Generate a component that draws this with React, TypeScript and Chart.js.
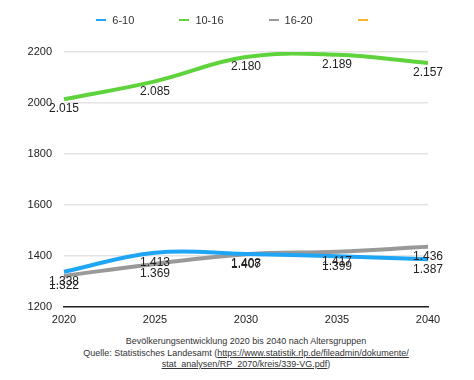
import React, { useEffect, useRef } from "react";
import { Chart, registerables } from "chart.js";

Chart.register(...registerables);

const years = ["2020", "2025", "2030", "2035", "2040"];
const group6to10 = [1338, 1413, 1408, 1399, 1387];
const group10to16 = [2015, 2085, 2180, 2189, 2157];
const group16to20 = [1322, 1369, 1407, 1417, 1436];
const groupEmpty: number[] = [];
const seriesNames = ["6-10", "10-16", "16-20", ""];
const seriesColors = ["#1fa5f5", "#5fd33c", "#999999", "#f7b52c"];
const yTicks = [1200, 1400, 1600, 1800, 2000, 2200];

const FONT = "'Liberation Sans', Arial, Helvetica, sans-serif";

function fmt(v: number): string {
  const t = Math.floor(v / 1000);
  const r = v % 1000;
  return t > 0 ? `${t}.${String(r).padStart(3, "0")}` : String(v);
}

const valueLabels = {
  id: "valueLabels",
  afterDatasetsDraw(chart: any) {
    const ctx = chart.ctx;
    ctx.save();
    ctx.font = `12px ${FONT}`;
    ctx.fillStyle = "#222";
    ctx.textAlign = "center";
    ctx.textBaseline = "middle";
    chart.data.datasets.forEach((ds: any, i: number) => {
      const meta = chart.getDatasetMeta(i);
      meta.data.forEach((pt: any, j: number) => {
        const v = ds.data[j];
        if (v == null) return;
        ctx.fillText(fmt(v), pt.x, pt.y + 10);
      });
    });
    ctx.restore();
  },
};

export default function App() {
  const ref = useRef<HTMLCanvasElement>(null);
  useEffect(() => {
    if (!ref.current) return;
    const allData = [group6to10, group10to16, group16to20, groupEmpty];
    const chart = new Chart(ref.current, {
      type: "line",
      data: {
        labels: years,
        datasets: allData.map((data, i) => ({
          label: seriesNames[i],
          data,
          borderColor: seriesColors[i],
          backgroundColor: seriesColors[i],
          borderWidth: 4,
          pointRadius: 0,
          pointHoverRadius: 0,
          tension: 0.4,
          fill: false,
        })),
      },
      options: {
        animation: false,
        responsive: false,
        maintainAspectRatio: false,
        layout: { padding: { top: 52, right: 46, bottom: 0, left: 0 } },
        plugins: {
          legend: { display: false },
          tooltip: { enabled: false },
        },
        scales: {
          x: {
            offset: false,
            grid: { display: false, drawTicks: false },
            border: { display: true, color: "#222", width: 1.5 },
            ticks: { color: "#222", font: { family: FONT, size: 11 }, padding: 6, maxRotation: 0 },
            afterFit: (s: any) => { s.height = 23; },
          },
          y: {
            min: 1200,
            max: 2200,
            afterBuildTicks: (s: any) => { s.ticks = yTicks.map((v) => ({ value: v })); },
            grid: { color: "#e4e4e4", lineWidth: 1.5, drawTicks: false },
            border: { display: false },
            ticks: {
              color: "#222",
              font: { family: FONT, size: 11 },
              padding: 12,
              callback: (v: any) => String(v),
            },
            afterFit: (s: any) => { s.width = 64; },
          },
        },
      },
      plugins: [valueLabels],
    });
    return () => chart.destroy();
  }, []);
  return (
    <div style={{ position: "fixed", left: 0, top: 0, width: 474, height: 380, background: "#fff" }}>
      <div
        style={{
          position: "absolute",
          left: 0,
          width: 464,
          top: 13,
          height: 14,
          display: "flex",
          justifyContent: "center",
          alignItems: "center",
          gap: 45,
          fontFamily: FONT,
          fontSize: 11,
          color: "#333",
        }}
      >
        {seriesNames.map((name, i) => (
          <div key={i} style={{ display: "flex", alignItems: "center", gap: 6 }}>
            <span style={{ display: "inline-block", width: 10, height: 2.5, background: seriesColors[i] }} />
            {name ? <span>{name}</span> : null}
          </div>
        ))}
      </div>
      <canvas ref={ref} width={474} height={330} style={{ display: "block", width: 474, height: 330 }} />
      <div
        style={{
          position: "absolute",
          left: 64,
          width: 364,
          top: 336,
          textAlign: "center",
          fontFamily: FONT,
          fontSize: 9,
          lineHeight: "11.5px",
          color: "#333",
        }}
      >
        Bevölkerungsentwicklung 2020 bis 2040 nach Altersgruppen
        <br />
        Quelle: Statistisches Landesamt (
        <span style={{ textDecoration: "underline" }}>
          https://www.statistik.rlp.de/fileadmin/dokumente/
          <br />
          stat_analysen/RP_2070/kreis/339-VG.pdf
        </span>
        )
      </div>
    </div>
  );
}
